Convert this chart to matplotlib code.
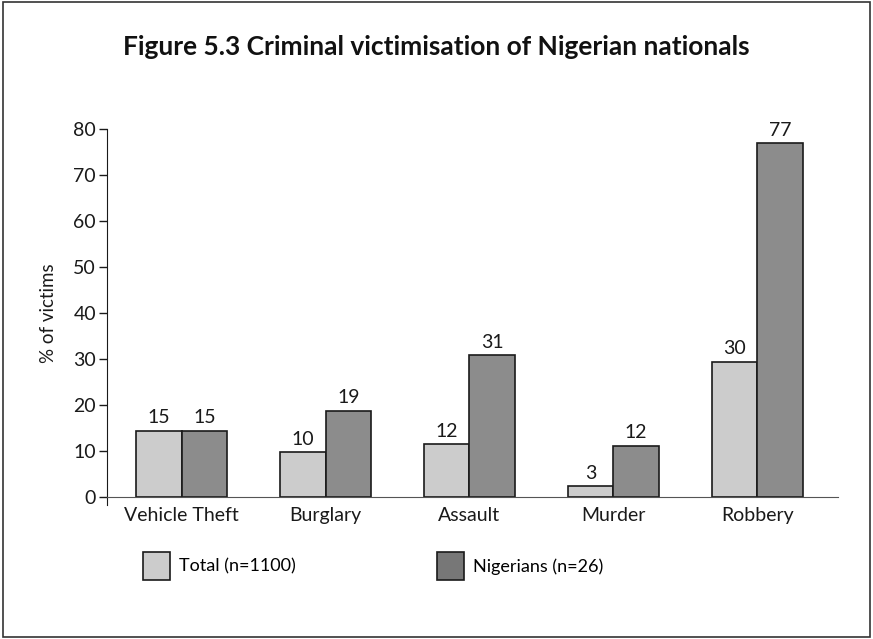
import numpy as np
import matplotlib.pyplot as plt
from matplotlib.patches import Patch, Rectangle

plt.rcParams['font.family'] = ['Lato', 'DejaVu Sans']

# data
categories = ['Vehicle Theft', 'Burglary', 'Assault', 'Murder', 'Robbery']
total_vals = [14.4, 9.7, 11.5, 2.3, 29.4]
nigerian_vals = [14.4, 18.8, 30.8, 11.2, 76.9]
total_labels = ['15', '10', '12', '3', '30']
nigerian_labels = ['15', '19', '31', '12', '77']
yticks = [0, 10, 20, 30, 40, 50, 60, 70, 80]

fig = plt.figure(figsize=(8.73, 6.39), dpi=100)
ax = fig.add_axes([0.1226, 0.2222, 0.8374, 0.5758])

x = np.arange(len(categories))
w = 0.316
b1 = ax.bar(x - w / 2, total_vals, w, color='#cccccc', edgecolor='#1a1a1a', linewidth=1.2)
b2 = ax.bar(x + w / 2, nigerian_vals, w, color='#8c8c8c', edgecolor='#1a1a1a', linewidth=1.2)

for bars, labs in [(b1, total_labels), (b2, nigerian_labels)]:
    for r, lab in zip(bars, labs):
        ax.text(r.get_x() + r.get_width() / 2, r.get_height() + 1.0, lab,
                ha='center', va='bottom', fontsize=14, color='#1a1a1a')

ax.set_xlim(-0.52, 4.5625)
ax.set_ylim(0, 80)
ax.set_yticks(yticks)
ax.set_xticks(x)
ax.set_xticklabels(categories, fontsize=14)
ax.tick_params(axis='y', labelsize=14, length=6, width=1, pad=2, colors='#1a1a1a')
ax.tick_params(axis='x', length=0, pad=7, colors='#1a1a1a')
ax.spines['top'].set_visible(False)
ax.spines['right'].set_visible(False)
ax.spines['left'].set_color('#1a1a1a')
ax.spines['bottom'].set_color('#555555')
ax.spines['left'].set_bounds(-1.7, 80)
ax.spines['left'].set_clip_on(False)
ax.set_ylabel('% of victims', fontsize=13.5, labelpad=12, color='#1a1a1a')

fig.text(0.5, 0.926, 'Figure 5.3 Criminal victimisation of Nigerian nationals',
         ha='center', va='center', fontsize=19, fontweight='bold', color='#111111')

handles = [Patch(facecolor='#cccccc', edgecolor='#1a1a1a', linewidth=1.2),
           Patch(facecolor='#777777', edgecolor='#1a1a1a', linewidth=1.2)]
fig.legend(handles, ['Total (n=1100)', 'Nigerians (n=26)'], ncol=2, frameon=False,
           loc='center left', bbox_to_anchor=(0.145, 0.114), fontsize=13,
           handlelength=1.5, handleheight=2.0, handletextpad=0.5, columnspacing=7.8)

fig.add_artist(Rectangle((0.003, 0.003), 0.994, 0.994, transform=fig.transFigure,
                         fill=False, edgecolor='#333333', linewidth=1.2))

fig.savefig('out.png', dpi=100)
